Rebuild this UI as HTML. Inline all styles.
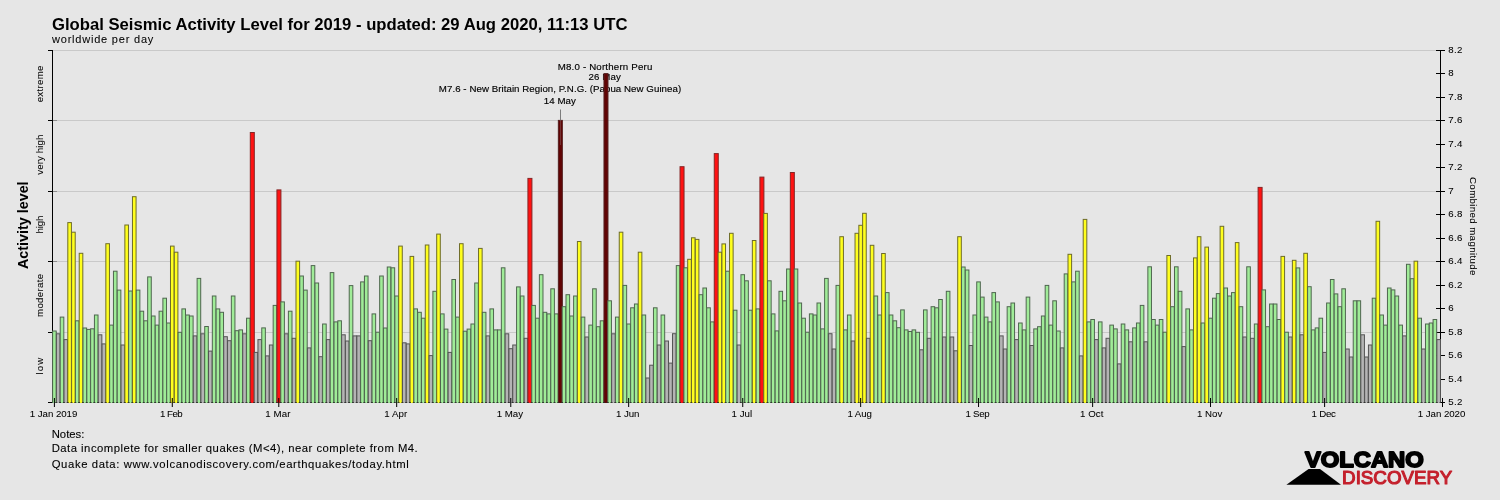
<!DOCTYPE html>
<html lang="en"><head><meta charset="utf-8"><title>Global Seismic Activity Level for 2019</title>
<style>
html,body{margin:0;padding:0;background:#e6e6e6;}
body{width:1500px;height:500px;overflow:hidden;}
svg{display:block;font-family:"Liberation Sans",sans-serif;fill:#000;}
.t{font-size:16px;font-weight:bold;}
.s{font-size:11px;stroke:#000;stroke-width:0.05px;}
.a{font-size:9.7px;stroke:#000;stroke-width:0.06px;}
.n{font-size:11.3px;stroke:#000;stroke-width:0.1px;}
.l{font-size:9.7px;stroke:#000;stroke-width:0.15px;}
.al{font-size:14px;font-weight:bold;}
.b rect{stroke-width:1;}
.g{fill:#a0ec98;stroke:#4f664f;}
.y{fill:#ffff1e;stroke:#6e6c2a;}
.n2{fill:#b4b4b4;stroke:#545454;}
.r{fill:#ff1212;stroke:#842626;}
.d{fill:#620404;stroke:#542020;}
</style></head><body>
<svg width="1500" height="500" viewBox="0 0 1500 500">
<rect x="0" y="0" width="1500" height="500" fill="#e6e6e6"/>
<text class="t" x="52" y="29.7" textLength="575.5" lengthAdjust="spacingAndGlyphs">Global Seismic Activity Level for 2019 - updated: 29 Aug 2020, 11:13 UTC</text>
<text class="s" x="52" y="42.9" textLength="101.3" lengthAdjust="spacing">worldwide per day</text>
<rect x="53" y="50" width="1387" height="1" fill="#c9c9c9"/>
<rect x="53" y="120" width="1387" height="1" fill="#c9c9c9"/>
<rect x="53" y="191" width="1387" height="1" fill="#c9c9c9"/>
<rect x="53" y="261" width="1387" height="1" fill="#c9c9c9"/>
<rect x="53" y="332" width="1387" height="1" fill="#c9c9c9"/>
<rect x="52" y="50" width="1" height="353" fill="#000"/>
<rect x="48" y="50" width="4" height="1" fill="#000"/>
<rect x="48" y="120" width="4" height="1" fill="#000"/>
<rect x="53" y="120" width="4" height="1" fill="#8c8c8c"/>
<rect x="48" y="191" width="4" height="1" fill="#000"/>
<rect x="53" y="191" width="4" height="1" fill="#8c8c8c"/>
<rect x="48" y="261" width="4" height="1" fill="#000"/>
<rect x="53" y="261" width="4" height="1" fill="#8c8c8c"/>
<rect x="48" y="332" width="4" height="1" fill="#000"/>
<rect x="53" y="332" width="4" height="1" fill="#8c8c8c"/>
<rect x="48" y="402" width="4" height="1" fill="#000"/>
<rect x="52" y="402" width="1389" height="1" fill="#000"/>
<rect x="1440" y="50" width="1" height="353" fill="#000"/>
<rect x="1436" y="50" width="9" height="1" fill="#000"/>
<text class="a" x="1448.2" y="52.7" textLength="14.1" lengthAdjust="spacing">8.2</text>
<rect x="1436" y="73" width="9" height="1" fill="#000"/>
<text class="a" x="1448.2" y="75.7">8</text>
<rect x="1436" y="97" width="9" height="1" fill="#000"/>
<text class="a" x="1448.2" y="99.7" textLength="14.1" lengthAdjust="spacing">7.8</text>
<rect x="1436" y="120" width="9" height="1" fill="#000"/>
<text class="a" x="1448.2" y="122.7" textLength="14.1" lengthAdjust="spacing">7.6</text>
<rect x="1436" y="144" width="9" height="1" fill="#000"/>
<text class="a" x="1448.2" y="146.7" textLength="14.1" lengthAdjust="spacing">7.4</text>
<rect x="1436" y="167" width="9" height="1" fill="#000"/>
<text class="a" x="1448.2" y="169.7" textLength="14.1" lengthAdjust="spacing">7.2</text>
<rect x="1436" y="191" width="9" height="1" fill="#000"/>
<text class="a" x="1448.2" y="193.7">7</text>
<rect x="1436" y="214" width="9" height="1" fill="#000"/>
<text class="a" x="1448.2" y="216.7" textLength="14.1" lengthAdjust="spacing">6.8</text>
<rect x="1436" y="238" width="9" height="1" fill="#000"/>
<text class="a" x="1448.2" y="240.7" textLength="14.1" lengthAdjust="spacing">6.6</text>
<rect x="1436" y="261" width="9" height="1" fill="#000"/>
<text class="a" x="1448.2" y="263.7" textLength="14.1" lengthAdjust="spacing">6.4</text>
<rect x="1436" y="285" width="9" height="1" fill="#000"/>
<text class="a" x="1448.2" y="287.7" textLength="14.1" lengthAdjust="spacing">6.2</text>
<rect x="1436" y="308" width="9" height="1" fill="#000"/>
<text class="a" x="1448.2" y="310.7">6</text>
<rect x="1436" y="332" width="9" height="1" fill="#000"/>
<text class="a" x="1448.2" y="334.7" textLength="14.1" lengthAdjust="spacing">5.8</text>
<rect x="1436" y="355" width="9" height="1" fill="#000"/>
<text class="a" x="1448.2" y="357.7" textLength="14.1" lengthAdjust="spacing">5.6</text>
<rect x="1436" y="379" width="9" height="1" fill="#000"/>
<text class="a" x="1448.2" y="381.7" textLength="14.1" lengthAdjust="spacing">5.4</text>
<rect x="1436" y="402" width="9" height="1" fill="#000"/>
<text class="a" x="1448.2" y="404.7" textLength="14.1" lengthAdjust="spacing">5.2</text>
<text class="l" x="605" y="70" text-anchor="middle" textLength="94.6" lengthAdjust="spacing">M8.0 - Northern Peru</text>
<text class="l" x="604.7" y="79.9" text-anchor="middle" textLength="32.4" lengthAdjust="spacing">26 May</text>
<text class="l" x="560" y="92" text-anchor="middle" textLength="242.3" lengthAdjust="spacing">M7.6 - New Britain Region, P.N.G. (Papua New Guinea)</text>
<text class="l" x="559.8" y="103.5" text-anchor="middle" textLength="32" lengthAdjust="spacing">14 May</text>
<svg class="b" x="0" y="0" width="1500" height="403" viewBox="0 0 1500 403" overflow="hidden">
<rect class="g" x="52.60" y="331.0" width="3.60" height="79.5"/>
<rect class="n2" x="56.40" y="333.8" width="3.60" height="76.7"/>
<rect class="g" x="60.21" y="317.1" width="3.60" height="93.4"/>
<rect class="n2" x="64.01" y="339.6" width="3.60" height="70.9"/>
<rect class="y" x="67.81" y="222.6" width="3.60" height="187.9"/>
<rect class="y" x="71.61" y="232.2" width="3.60" height="178.3"/>
<rect class="g" x="75.42" y="320.8" width="3.60" height="89.7"/>
<rect class="y" x="79.22" y="253.3" width="3.60" height="157.2"/>
<rect class="g" x="83.02" y="328.0" width="3.60" height="82.5"/>
<rect class="g" x="86.83" y="329.4" width="3.60" height="81.1"/>
<rect class="g" x="90.63" y="328.8" width="3.60" height="81.7"/>
<rect class="g" x="94.43" y="315.0" width="3.60" height="95.5"/>
<rect class="n2" x="98.24" y="334.8" width="3.60" height="75.7"/>
<rect class="n2" x="102.04" y="343.9" width="3.60" height="66.6"/>
<rect class="y" x="105.84" y="243.7" width="3.60" height="166.8"/>
<rect class="g" x="109.64" y="325.1" width="3.60" height="85.4"/>
<rect class="g" x="113.45" y="271.2" width="3.60" height="139.3"/>
<rect class="g" x="117.25" y="290.1" width="3.60" height="120.4"/>
<rect class="n2" x="121.05" y="345.0" width="3.60" height="65.5"/>
<rect class="y" x="124.86" y="225.0" width="3.60" height="185.5"/>
<rect class="g" x="128.66" y="291.0" width="3.60" height="119.5"/>
<rect class="y" x="132.46" y="196.7" width="3.60" height="213.8"/>
<rect class="g" x="136.27" y="290.1" width="3.60" height="120.4"/>
<rect class="g" x="140.07" y="311.2" width="3.60" height="99.3"/>
<rect class="g" x="143.87" y="320.8" width="3.60" height="89.7"/>
<rect class="g" x="147.67" y="276.9" width="3.60" height="133.6"/>
<rect class="g" x="151.48" y="316.0" width="3.60" height="94.5"/>
<rect class="g" x="155.28" y="325.1" width="3.60" height="85.4"/>
<rect class="g" x="159.08" y="311.2" width="3.60" height="99.3"/>
<rect class="g" x="162.89" y="298.2" width="3.60" height="112.3"/>
<rect class="g" x="166.69" y="323.0" width="3.60" height="87.5"/>
<rect class="y" x="170.49" y="246.1" width="3.60" height="164.4"/>
<rect class="y" x="174.30" y="252.2" width="3.60" height="158.3"/>
<rect class="g" x="178.10" y="332.3" width="3.60" height="78.2"/>
<rect class="g" x="181.90" y="308.9" width="3.60" height="101.6"/>
<rect class="g" x="185.70" y="315.0" width="3.60" height="95.5"/>
<rect class="g" x="189.51" y="316.0" width="3.60" height="94.5"/>
<rect class="n2" x="193.31" y="335.9" width="3.60" height="74.6"/>
<rect class="g" x="197.11" y="278.4" width="3.60" height="132.1"/>
<rect class="n2" x="200.92" y="333.8" width="3.60" height="76.7"/>
<rect class="g" x="204.72" y="326.5" width="3.60" height="84.0"/>
<rect class="n2" x="208.52" y="351.1" width="3.60" height="59.4"/>
<rect class="g" x="212.33" y="296.0" width="3.60" height="114.5"/>
<rect class="g" x="216.13" y="308.9" width="3.60" height="101.6"/>
<rect class="g" x="219.93" y="312.3" width="3.60" height="98.2"/>
<rect class="n2" x="223.73" y="336.7" width="3.60" height="73.8"/>
<rect class="n2" x="227.54" y="340.7" width="3.60" height="69.8"/>
<rect class="g" x="231.34" y="296.0" width="3.60" height="114.5"/>
<rect class="g" x="235.14" y="330.7" width="3.60" height="79.8"/>
<rect class="g" x="238.95" y="329.9" width="3.60" height="80.6"/>
<rect class="n2" x="242.75" y="333.8" width="3.60" height="76.7"/>
<rect class="g" x="246.55" y="318.2" width="3.60" height="92.3"/>
<rect class="r" x="250.31" y="132.5" width="4.00" height="278.0"/>
<rect class="n2" x="254.16" y="352.4" width="3.60" height="58.1"/>
<rect class="n2" x="257.96" y="339.6" width="3.60" height="70.9"/>
<rect class="g" x="261.76" y="327.9" width="3.60" height="82.6"/>
<rect class="n2" x="265.57" y="355.9" width="3.60" height="54.6"/>
<rect class="n2" x="269.37" y="345.0" width="3.60" height="65.5"/>
<rect class="g" x="273.17" y="305.4" width="3.60" height="105.1"/>
<rect class="r" x="276.93" y="189.9" width="4.00" height="220.6"/>
<rect class="g" x="280.78" y="301.9" width="3.60" height="108.6"/>
<rect class="n2" x="284.58" y="333.8" width="3.60" height="76.7"/>
<rect class="g" x="288.39" y="311.2" width="3.60" height="99.3"/>
<rect class="n2" x="292.19" y="338.3" width="3.60" height="72.2"/>
<rect class="y" x="295.99" y="261.2" width="3.60" height="149.3"/>
<rect class="g" x="299.79" y="276.0" width="3.60" height="134.5"/>
<rect class="g" x="303.60" y="290.1" width="3.60" height="120.4"/>
<rect class="n2" x="307.40" y="347.9" width="3.60" height="62.6"/>
<rect class="g" x="311.20" y="265.6" width="3.60" height="144.9"/>
<rect class="g" x="315.01" y="283.0" width="3.60" height="127.5"/>
<rect class="n2" x="318.81" y="356.7" width="3.60" height="53.8"/>
<rect class="g" x="322.61" y="324.0" width="3.60" height="86.5"/>
<rect class="n2" x="326.42" y="339.6" width="3.60" height="70.9"/>
<rect class="g" x="330.22" y="272.6" width="3.60" height="137.9"/>
<rect class="g" x="334.02" y="321.9" width="3.60" height="88.6"/>
<rect class="g" x="337.82" y="320.8" width="3.60" height="89.7"/>
<rect class="n2" x="341.63" y="334.8" width="3.60" height="75.7"/>
<rect class="n2" x="345.43" y="341.0" width="3.60" height="69.5"/>
<rect class="g" x="349.23" y="285.6" width="3.60" height="124.9"/>
<rect class="n2" x="353.04" y="335.9" width="3.60" height="74.6"/>
<rect class="n2" x="356.84" y="335.9" width="3.60" height="74.6"/>
<rect class="g" x="360.64" y="281.9" width="3.60" height="128.6"/>
<rect class="g" x="364.45" y="276.0" width="3.60" height="134.5"/>
<rect class="n2" x="368.25" y="340.7" width="3.60" height="69.8"/>
<rect class="g" x="372.05" y="313.9" width="3.60" height="96.6"/>
<rect class="g" x="375.85" y="332.2" width="3.60" height="78.3"/>
<rect class="g" x="379.66" y="276.0" width="3.60" height="134.5"/>
<rect class="g" x="383.46" y="328.0" width="3.60" height="82.5"/>
<rect class="g" x="387.26" y="267.0" width="3.60" height="143.5"/>
<rect class="g" x="391.07" y="267.8" width="3.60" height="142.7"/>
<rect class="g" x="394.87" y="296.0" width="3.60" height="114.5"/>
<rect class="y" x="398.67" y="246.1" width="3.60" height="164.4"/>
<rect class="n2" x="402.48" y="342.8" width="3.60" height="67.7"/>
<rect class="n2" x="406.28" y="343.9" width="3.60" height="66.6"/>
<rect class="y" x="410.08" y="256.4" width="3.60" height="154.1"/>
<rect class="g" x="413.88" y="308.9" width="3.60" height="101.6"/>
<rect class="g" x="417.69" y="312.3" width="3.60" height="98.2"/>
<rect class="g" x="421.49" y="318.2" width="3.60" height="92.3"/>
<rect class="y" x="425.29" y="245.0" width="3.60" height="165.5"/>
<rect class="n2" x="429.10" y="355.6" width="3.60" height="54.9"/>
<rect class="g" x="432.90" y="291.3" width="3.60" height="119.2"/>
<rect class="y" x="436.70" y="234.1" width="3.60" height="176.4"/>
<rect class="g" x="440.51" y="313.9" width="3.60" height="96.6"/>
<rect class="g" x="444.31" y="329.1" width="3.60" height="81.4"/>
<rect class="n2" x="448.11" y="352.4" width="3.60" height="58.1"/>
<rect class="g" x="451.91" y="279.5" width="3.60" height="131.0"/>
<rect class="g" x="455.72" y="317.1" width="3.60" height="93.4"/>
<rect class="y" x="459.52" y="243.7" width="3.60" height="166.8"/>
<rect class="g" x="463.32" y="331.2" width="3.60" height="79.3"/>
<rect class="g" x="467.13" y="329.1" width="3.60" height="81.4"/>
<rect class="g" x="470.93" y="324.0" width="3.60" height="86.5"/>
<rect class="g" x="474.73" y="283.0" width="3.60" height="127.5"/>
<rect class="y" x="478.54" y="248.4" width="3.60" height="162.1"/>
<rect class="g" x="482.34" y="312.3" width="3.60" height="98.2"/>
<rect class="n2" x="486.14" y="335.9" width="3.60" height="74.6"/>
<rect class="g" x="489.94" y="308.9" width="3.60" height="101.6"/>
<rect class="g" x="493.75" y="329.9" width="3.60" height="80.6"/>
<rect class="g" x="497.55" y="329.9" width="3.60" height="80.6"/>
<rect class="g" x="501.35" y="267.8" width="3.60" height="142.7"/>
<rect class="n2" x="505.16" y="333.8" width="3.60" height="76.7"/>
<rect class="n2" x="508.96" y="348.7" width="3.60" height="61.8"/>
<rect class="n2" x="512.76" y="345.0" width="3.60" height="65.5"/>
<rect class="g" x="516.57" y="286.9" width="3.60" height="123.6"/>
<rect class="g" x="520.37" y="296.0" width="3.60" height="114.5"/>
<rect class="n2" x="524.17" y="338.3" width="3.60" height="72.2"/>
<rect class="r" x="527.92" y="178.4" width="4.00" height="232.1"/>
<rect class="g" x="531.78" y="305.4" width="3.60" height="105.1"/>
<rect class="g" x="535.58" y="318.2" width="3.60" height="92.3"/>
<rect class="g" x="539.38" y="274.7" width="3.60" height="135.8"/>
<rect class="g" x="543.19" y="312.3" width="3.60" height="98.2"/>
<rect class="g" x="546.99" y="313.9" width="3.60" height="96.6"/>
<rect class="g" x="550.79" y="288.8" width="3.60" height="121.7"/>
<rect class="g" x="554.60" y="313.9" width="3.60" height="96.6"/>
<rect class="d" x="558.35" y="120.4" width="4.00" height="290.1"/>
<rect class="g" x="562.20" y="306.7" width="3.60" height="103.8"/>
<rect class="g" x="566.00" y="294.7" width="3.60" height="115.8"/>
<rect class="g" x="569.81" y="316.0" width="3.60" height="94.5"/>
<rect class="g" x="573.61" y="296.0" width="3.60" height="114.5"/>
<rect class="y" x="577.41" y="241.5" width="3.60" height="169.0"/>
<rect class="g" x="581.22" y="317.1" width="3.60" height="93.4"/>
<rect class="n2" x="585.02" y="337.0" width="3.60" height="73.5"/>
<rect class="g" x="588.82" y="325.1" width="3.60" height="85.4"/>
<rect class="g" x="592.63" y="288.8" width="3.60" height="121.7"/>
<rect class="g" x="596.43" y="326.7" width="3.60" height="83.8"/>
<rect class="g" x="600.23" y="320.8" width="3.60" height="89.7"/>
<rect class="d" x="603.98" y="73.6" width="4.00" height="336.9"/>
<rect class="g" x="607.84" y="300.8" width="3.60" height="109.7"/>
<rect class="n2" x="611.64" y="333.8" width="3.60" height="76.7"/>
<rect class="g" x="615.44" y="317.1" width="3.60" height="93.4"/>
<rect class="y" x="619.25" y="232.2" width="3.60" height="178.3"/>
<rect class="g" x="623.05" y="285.4" width="3.60" height="125.1"/>
<rect class="g" x="626.85" y="324.0" width="3.60" height="86.5"/>
<rect class="g" x="630.66" y="307.8" width="3.60" height="102.7"/>
<rect class="g" x="634.46" y="304.0" width="3.60" height="106.5"/>
<rect class="y" x="638.26" y="252.2" width="3.60" height="158.3"/>
<rect class="g" x="642.07" y="315.0" width="3.60" height="95.5"/>
<rect class="n2" x="645.87" y="378.0" width="3.60" height="32.5"/>
<rect class="n2" x="649.67" y="365.2" width="3.60" height="45.3"/>
<rect class="g" x="653.47" y="307.8" width="3.60" height="102.7"/>
<rect class="n2" x="657.28" y="345.0" width="3.60" height="65.5"/>
<rect class="g" x="661.08" y="315.0" width="3.60" height="95.5"/>
<rect class="n2" x="664.88" y="341.0" width="3.60" height="69.5"/>
<rect class="n2" x="668.69" y="363.1" width="3.60" height="47.4"/>
<rect class="n2" x="672.49" y="333.7" width="3.60" height="76.8"/>
<rect class="g" x="676.29" y="265.6" width="3.60" height="144.9"/>
<rect class="r" x="680.04" y="166.7" width="4.00" height="243.8"/>
<rect class="g" x="683.90" y="267.8" width="3.60" height="142.7"/>
<rect class="y" x="687.70" y="259.3" width="3.60" height="151.2"/>
<rect class="y" x="691.50" y="237.8" width="3.60" height="172.7"/>
<rect class="y" x="695.31" y="239.4" width="3.60" height="171.1"/>
<rect class="g" x="699.11" y="294.7" width="3.60" height="115.8"/>
<rect class="g" x="702.91" y="288.0" width="3.60" height="122.5"/>
<rect class="g" x="706.72" y="307.8" width="3.60" height="102.7"/>
<rect class="g" x="710.52" y="321.9" width="3.60" height="88.6"/>
<rect class="r" x="714.27" y="153.6" width="4.00" height="256.9"/>
<rect class="y" x="718.12" y="252.2" width="3.60" height="158.3"/>
<rect class="y" x="721.93" y="243.9" width="3.60" height="166.6"/>
<rect class="g" x="725.73" y="271.2" width="3.60" height="139.3"/>
<rect class="y" x="729.53" y="233.3" width="3.60" height="177.2"/>
<rect class="g" x="733.34" y="310.2" width="3.60" height="100.3"/>
<rect class="n2" x="737.14" y="345.0" width="3.60" height="65.5"/>
<rect class="g" x="740.94" y="274.7" width="3.60" height="135.8"/>
<rect class="g" x="744.75" y="280.8" width="3.60" height="129.7"/>
<rect class="g" x="748.55" y="310.2" width="3.60" height="100.3"/>
<rect class="y" x="752.35" y="240.5" width="3.60" height="170.0"/>
<rect class="g" x="756.15" y="308.9" width="3.60" height="101.6"/>
<rect class="r" x="759.91" y="177.1" width="4.00" height="233.4"/>
<rect class="y" x="763.76" y="213.4" width="3.60" height="197.1"/>
<rect class="g" x="767.56" y="280.8" width="3.60" height="129.7"/>
<rect class="g" x="771.37" y="313.9" width="3.60" height="96.6"/>
<rect class="g" x="775.17" y="330.9" width="3.60" height="79.6"/>
<rect class="g" x="778.97" y="291.3" width="3.60" height="119.2"/>
<rect class="g" x="782.78" y="300.8" width="3.60" height="109.7"/>
<rect class="g" x="786.58" y="269.0" width="3.60" height="141.5"/>
<rect class="r" x="790.33" y="172.5" width="4.00" height="238.0"/>
<rect class="g" x="794.19" y="269.0" width="3.60" height="141.5"/>
<rect class="g" x="797.99" y="303.0" width="3.60" height="107.5"/>
<rect class="g" x="801.79" y="318.2" width="3.60" height="92.3"/>
<rect class="g" x="805.59" y="332.2" width="3.60" height="78.3"/>
<rect class="g" x="809.40" y="313.9" width="3.60" height="96.6"/>
<rect class="g" x="813.20" y="315.0" width="3.60" height="95.5"/>
<rect class="g" x="817.00" y="303.0" width="3.60" height="107.5"/>
<rect class="g" x="820.81" y="328.9" width="3.60" height="81.6"/>
<rect class="g" x="824.61" y="278.4" width="3.60" height="132.1"/>
<rect class="n2" x="828.41" y="333.7" width="3.60" height="76.8"/>
<rect class="n2" x="832.22" y="349.0" width="3.60" height="61.5"/>
<rect class="g" x="836.02" y="285.4" width="3.60" height="125.1"/>
<rect class="y" x="839.82" y="236.7" width="3.60" height="173.8"/>
<rect class="g" x="843.62" y="329.9" width="3.60" height="80.6"/>
<rect class="g" x="847.43" y="315.0" width="3.60" height="95.5"/>
<rect class="n2" x="851.23" y="341.0" width="3.60" height="69.5"/>
<rect class="y" x="855.03" y="233.3" width="3.60" height="177.2"/>
<rect class="y" x="858.84" y="225.3" width="3.60" height="185.2"/>
<rect class="y" x="862.64" y="213.3" width="3.60" height="197.2"/>
<rect class="n2" x="866.44" y="338.3" width="3.60" height="72.2"/>
<rect class="y" x="870.25" y="245.3" width="3.60" height="165.2"/>
<rect class="g" x="874.05" y="296.0" width="3.60" height="114.5"/>
<rect class="g" x="877.85" y="315.0" width="3.60" height="95.5"/>
<rect class="y" x="881.65" y="253.5" width="3.60" height="157.0"/>
<rect class="g" x="885.46" y="292.6" width="3.60" height="117.9"/>
<rect class="g" x="889.26" y="315.0" width="3.60" height="95.5"/>
<rect class="g" x="893.06" y="320.8" width="3.60" height="89.7"/>
<rect class="g" x="896.87" y="327.7" width="3.60" height="82.8"/>
<rect class="g" x="900.67" y="309.9" width="3.60" height="100.6"/>
<rect class="g" x="904.47" y="329.9" width="3.60" height="80.6"/>
<rect class="g" x="908.27" y="331.5" width="3.60" height="79.0"/>
<rect class="g" x="912.08" y="329.9" width="3.60" height="80.6"/>
<rect class="g" x="915.88" y="332.3" width="3.60" height="78.2"/>
<rect class="n2" x="919.68" y="349.8" width="3.60" height="60.7"/>
<rect class="g" x="923.49" y="309.9" width="3.60" height="100.6"/>
<rect class="n2" x="927.29" y="338.3" width="3.60" height="72.2"/>
<rect class="g" x="931.09" y="306.7" width="3.60" height="103.8"/>
<rect class="g" x="934.90" y="307.8" width="3.60" height="102.7"/>
<rect class="g" x="938.70" y="299.5" width="3.60" height="111.0"/>
<rect class="n2" x="942.50" y="337.0" width="3.60" height="73.5"/>
<rect class="g" x="946.31" y="291.3" width="3.60" height="119.2"/>
<rect class="n2" x="950.11" y="337.0" width="3.60" height="73.5"/>
<rect class="n2" x="953.91" y="350.8" width="3.60" height="59.7"/>
<rect class="y" x="957.71" y="236.7" width="3.60" height="173.8"/>
<rect class="g" x="961.52" y="267.0" width="3.60" height="143.5"/>
<rect class="g" x="965.32" y="270.0" width="3.60" height="140.5"/>
<rect class="n2" x="969.12" y="345.5" width="3.60" height="65.0"/>
<rect class="g" x="972.93" y="315.0" width="3.60" height="95.5"/>
<rect class="g" x="976.73" y="281.9" width="3.60" height="128.6"/>
<rect class="g" x="980.53" y="297.1" width="3.60" height="113.4"/>
<rect class="g" x="984.34" y="317.1" width="3.60" height="93.4"/>
<rect class="g" x="988.14" y="321.9" width="3.60" height="88.6"/>
<rect class="g" x="991.94" y="292.6" width="3.60" height="117.9"/>
<rect class="g" x="995.74" y="301.9" width="3.60" height="108.6"/>
<rect class="n2" x="999.55" y="335.9" width="3.60" height="74.6"/>
<rect class="n2" x="1003.35" y="349.0" width="3.60" height="61.5"/>
<rect class="g" x="1007.15" y="306.7" width="3.60" height="103.8"/>
<rect class="g" x="1010.96" y="303.0" width="3.60" height="107.5"/>
<rect class="n2" x="1014.76" y="339.6" width="3.60" height="70.9"/>
<rect class="g" x="1018.56" y="323.0" width="3.60" height="87.5"/>
<rect class="g" x="1022.37" y="329.9" width="3.60" height="80.6"/>
<rect class="g" x="1026.17" y="297.1" width="3.60" height="113.4"/>
<rect class="n2" x="1029.97" y="345.5" width="3.60" height="65.0"/>
<rect class="g" x="1033.77" y="328.9" width="3.60" height="81.6"/>
<rect class="g" x="1037.58" y="326.7" width="3.60" height="83.8"/>
<rect class="g" x="1041.38" y="316.0" width="3.60" height="94.5"/>
<rect class="g" x="1045.18" y="285.4" width="3.60" height="125.1"/>
<rect class="g" x="1048.99" y="325.1" width="3.60" height="85.4"/>
<rect class="g" x="1052.79" y="300.8" width="3.60" height="109.7"/>
<rect class="g" x="1056.59" y="331.0" width="3.60" height="79.5"/>
<rect class="n2" x="1060.39" y="347.9" width="3.60" height="62.6"/>
<rect class="g" x="1064.20" y="273.9" width="3.60" height="136.6"/>
<rect class="y" x="1068.00" y="254.3" width="3.60" height="156.2"/>
<rect class="g" x="1071.80" y="281.9" width="3.60" height="128.6"/>
<rect class="g" x="1075.61" y="271.2" width="3.60" height="139.3"/>
<rect class="n2" x="1079.41" y="355.9" width="3.60" height="54.6"/>
<rect class="y" x="1083.21" y="219.4" width="3.60" height="191.1"/>
<rect class="g" x="1087.02" y="321.9" width="3.60" height="88.6"/>
<rect class="g" x="1090.82" y="319.5" width="3.60" height="91.0"/>
<rect class="n2" x="1094.62" y="339.6" width="3.60" height="70.9"/>
<rect class="g" x="1098.43" y="321.9" width="3.60" height="88.6"/>
<rect class="n2" x="1102.23" y="347.9" width="3.60" height="62.6"/>
<rect class="n2" x="1106.03" y="338.3" width="3.60" height="72.2"/>
<rect class="g" x="1109.83" y="325.1" width="3.60" height="85.4"/>
<rect class="g" x="1113.64" y="328.9" width="3.60" height="81.6"/>
<rect class="n2" x="1117.44" y="363.9" width="3.60" height="46.6"/>
<rect class="g" x="1121.24" y="324.0" width="3.60" height="86.5"/>
<rect class="g" x="1125.05" y="329.9" width="3.60" height="80.6"/>
<rect class="n2" x="1128.85" y="341.8" width="3.60" height="68.7"/>
<rect class="g" x="1132.65" y="327.9" width="3.60" height="82.6"/>
<rect class="g" x="1136.46" y="323.0" width="3.60" height="87.5"/>
<rect class="g" x="1140.26" y="305.4" width="3.60" height="105.1"/>
<rect class="n2" x="1144.06" y="341.8" width="3.60" height="68.7"/>
<rect class="g" x="1147.86" y="266.8" width="3.60" height="143.7"/>
<rect class="g" x="1151.67" y="319.5" width="3.60" height="91.0"/>
<rect class="g" x="1155.47" y="325.1" width="3.60" height="85.4"/>
<rect class="g" x="1159.27" y="319.5" width="3.60" height="91.0"/>
<rect class="g" x="1163.08" y="332.2" width="3.60" height="78.3"/>
<rect class="y" x="1166.88" y="255.5" width="3.60" height="155.0"/>
<rect class="g" x="1170.68" y="306.7" width="3.60" height="103.8"/>
<rect class="g" x="1174.49" y="266.8" width="3.60" height="143.7"/>
<rect class="g" x="1178.29" y="291.3" width="3.60" height="119.2"/>
<rect class="n2" x="1182.09" y="346.6" width="3.60" height="63.9"/>
<rect class="g" x="1185.89" y="308.9" width="3.60" height="101.6"/>
<rect class="g" x="1189.70" y="329.9" width="3.60" height="80.6"/>
<rect class="y" x="1193.50" y="257.9" width="3.60" height="152.6"/>
<rect class="y" x="1197.30" y="236.7" width="3.60" height="173.8"/>
<rect class="g" x="1201.11" y="323.0" width="3.60" height="87.5"/>
<rect class="y" x="1204.91" y="247.1" width="3.60" height="163.4"/>
<rect class="g" x="1208.71" y="318.2" width="3.60" height="92.3"/>
<rect class="g" x="1212.52" y="298.2" width="3.60" height="112.3"/>
<rect class="g" x="1216.32" y="293.6" width="3.60" height="116.9"/>
<rect class="y" x="1220.12" y="226.3" width="3.60" height="184.2"/>
<rect class="g" x="1223.92" y="288.0" width="3.60" height="122.5"/>
<rect class="g" x="1227.73" y="296.0" width="3.60" height="114.5"/>
<rect class="g" x="1231.53" y="292.6" width="3.60" height="117.9"/>
<rect class="y" x="1235.33" y="242.6" width="3.60" height="167.9"/>
<rect class="g" x="1239.14" y="306.7" width="3.60" height="103.8"/>
<rect class="n2" x="1242.94" y="337.0" width="3.60" height="73.5"/>
<rect class="g" x="1246.74" y="266.8" width="3.60" height="143.7"/>
<rect class="n2" x="1250.55" y="338.3" width="3.60" height="72.2"/>
<rect class="g" x="1254.35" y="324.0" width="3.60" height="86.5"/>
<rect class="r" x="1258.10" y="187.4" width="4.00" height="223.1"/>
<rect class="g" x="1261.95" y="289.9" width="3.60" height="120.6"/>
<rect class="g" x="1265.76" y="326.7" width="3.60" height="83.8"/>
<rect class="g" x="1269.56" y="304.0" width="3.60" height="106.5"/>
<rect class="g" x="1273.36" y="304.0" width="3.60" height="106.5"/>
<rect class="g" x="1277.17" y="319.5" width="3.60" height="91.0"/>
<rect class="y" x="1280.97" y="256.4" width="3.60" height="154.1"/>
<rect class="g" x="1284.77" y="332.2" width="3.60" height="78.3"/>
<rect class="n2" x="1288.58" y="337.0" width="3.60" height="73.5"/>
<rect class="y" x="1292.38" y="260.3" width="3.60" height="150.2"/>
<rect class="g" x="1296.18" y="267.9" width="3.60" height="142.6"/>
<rect class="n2" x="1299.98" y="334.8" width="3.60" height="75.7"/>
<rect class="y" x="1303.79" y="253.3" width="3.60" height="157.2"/>
<rect class="g" x="1307.59" y="286.7" width="3.60" height="123.8"/>
<rect class="g" x="1311.39" y="329.9" width="3.60" height="80.6"/>
<rect class="g" x="1315.20" y="327.9" width="3.60" height="82.6"/>
<rect class="g" x="1319.00" y="318.2" width="3.60" height="92.3"/>
<rect class="n2" x="1322.80" y="352.4" width="3.60" height="58.1"/>
<rect class="g" x="1326.61" y="303.0" width="3.60" height="107.5"/>
<rect class="g" x="1330.41" y="279.5" width="3.60" height="131.0"/>
<rect class="g" x="1334.21" y="293.9" width="3.60" height="116.6"/>
<rect class="g" x="1338.01" y="306.7" width="3.60" height="103.8"/>
<rect class="g" x="1341.82" y="288.8" width="3.60" height="121.7"/>
<rect class="n2" x="1345.62" y="349.0" width="3.60" height="61.5"/>
<rect class="n2" x="1349.42" y="357.0" width="3.60" height="53.5"/>
<rect class="g" x="1353.23" y="300.8" width="3.60" height="109.7"/>
<rect class="g" x="1357.03" y="300.8" width="3.60" height="109.7"/>
<rect class="n2" x="1360.83" y="334.8" width="3.60" height="75.7"/>
<rect class="n2" x="1364.64" y="357.0" width="3.60" height="53.5"/>
<rect class="n2" x="1368.44" y="345.0" width="3.60" height="65.5"/>
<rect class="g" x="1372.24" y="298.2" width="3.60" height="112.3"/>
<rect class="y" x="1376.04" y="221.3" width="3.60" height="189.2"/>
<rect class="g" x="1379.85" y="315.0" width="3.60" height="95.5"/>
<rect class="g" x="1383.65" y="325.1" width="3.60" height="85.4"/>
<rect class="g" x="1387.45" y="288.0" width="3.60" height="122.5"/>
<rect class="g" x="1391.26" y="289.9" width="3.60" height="120.6"/>
<rect class="g" x="1395.06" y="296.0" width="3.60" height="114.5"/>
<rect class="g" x="1398.86" y="325.1" width="3.60" height="85.4"/>
<rect class="n2" x="1402.67" y="335.9" width="3.60" height="74.6"/>
<rect class="g" x="1406.47" y="264.3" width="3.60" height="146.2"/>
<rect class="g" x="1410.27" y="278.7" width="3.60" height="131.8"/>
<rect class="y" x="1414.07" y="261.2" width="3.60" height="149.3"/>
<rect class="g" x="1417.88" y="318.2" width="3.60" height="92.3"/>
<rect class="n2" x="1421.68" y="349.0" width="3.60" height="61.5"/>
<rect class="g" x="1425.48" y="324.0" width="3.60" height="86.5"/>
<rect class="g" x="1429.29" y="323.0" width="3.60" height="87.5"/>
<rect class="g" x="1433.09" y="319.5" width="3.60" height="91.0"/>
<rect class="n2" x="1436.89" y="339.6" width="3.60" height="70.9"/>
</svg>
<line x1="55.30" y1="402.5" x2="1441" y2="402.5" stroke="#2a2a2a" stroke-opacity="0.85" stroke-width="1" stroke-dasharray="2 1.803"/>
<rect x="560" y="109.5" width="1" height="10.5" fill="#7d7d7d"/>
<rect x="560" y="120" width="1" height="25" fill="#8a6a6a" opacity="0.45"/>
<rect x="53.90" y="398" width="1" height="9" fill="#000"/>
<text class="a" x="29.8" y="417" textLength="47.5" lengthAdjust="spacing">1 Jan 2019</text>
<rect x="171.79" y="398" width="1" height="9" fill="#000"/>
<text class="a" x="160.0" y="417" textLength="22.7" lengthAdjust="spacing">1 Feb</text>
<rect x="278.28" y="398" width="1" height="9" fill="#000"/>
<text class="a" x="265.2" y="417" textLength="25.4" lengthAdjust="spacing">1 Mar</text>
<rect x="396.17" y="398" width="1" height="9" fill="#000"/>
<text class="a" x="384.3" y="417" textLength="23" lengthAdjust="spacing">1 Apr</text>
<rect x="510.26" y="398" width="1" height="9" fill="#000"/>
<text class="a" x="496.7" y="417" textLength="26.4" lengthAdjust="spacing">1 May</text>
<rect x="628.15" y="398" width="1" height="9" fill="#000"/>
<text class="a" x="616.1" y="417" textLength="23.3" lengthAdjust="spacing">1 Jun</text>
<rect x="742.24" y="398" width="1" height="9" fill="#000"/>
<text class="a" x="731.6" y="417" textLength="20.5" lengthAdjust="spacing">1 Jul</text>
<rect x="860.14" y="398" width="1" height="9" fill="#000"/>
<text class="a" x="847.4" y="417" textLength="24.6" lengthAdjust="spacing">1 Aug</text>
<rect x="978.03" y="398" width="1" height="9" fill="#000"/>
<text class="a" x="965.6" y="417" textLength="24" lengthAdjust="spacing">1 Sep</text>
<rect x="1092.12" y="398" width="1" height="9" fill="#000"/>
<text class="a" x="1080.1" y="417" textLength="23.3" lengthAdjust="spacing">1 Oct</text>
<rect x="1210.01" y="398" width="1" height="9" fill="#000"/>
<text class="a" x="1197.0" y="417" textLength="25.3" lengthAdjust="spacing">1 Nov</text>
<rect x="1324.10" y="398" width="1" height="9" fill="#000"/>
<text class="a" x="1311.6" y="417" textLength="24.3" lengthAdjust="spacing">1 Dec</text>
<rect x="1442.00" y="398" width="1" height="9" fill="#000"/>
<text class="a" x="1417.8" y="417" textLength="47.5" lengthAdjust="spacing">1 Jan 2020</text>
<text class="a" transform="translate(43.2 374.6) rotate(-90)" textLength="16.8" lengthAdjust="spacing">low</text>
<text class="a" transform="translate(43.2 317.0) rotate(-90)" textLength="43.2" lengthAdjust="spacing">moderate</text>
<text class="a" transform="translate(43.2 233.6) rotate(-90)" textLength="18" lengthAdjust="spacing">high</text>
<text class="a" transform="translate(43.2 174.8) rotate(-90)" textLength="40.2" lengthAdjust="spacing">very high</text>
<text class="a" transform="translate(43.2 102.3) rotate(-90)" textLength="36.7" lengthAdjust="spacing">extreme</text>
<text class="al" transform="translate(28.2 225.2) rotate(-90)" text-anchor="middle" textLength="87.6" lengthAdjust="spacingAndGlyphs">Activity level</text>
<text class="a" transform="translate(1470 226.2) rotate(90)" text-anchor="middle" textLength="98.4" lengthAdjust="spacing">Combined magnitude</text>
<text class="n" x="51.7" y="438" >Notes:</text>
<text class="n" x="51.7" y="452" textLength="366" lengthAdjust="spacing">Data incomplete for smaller quakes (M&lt;4), near complete from M4.</text>
<text class="n" x="51.7" y="467.8" textLength="357" lengthAdjust="spacing">Quake data: www.volcanodiscovery.com/earthquakes/today.html</text>
<polygon points="1286.4,484.8 1308.6,469.1 1320,469.1 1341,484.8" fill="#000"/>
<text x="1304.9" y="466.5" font-size="22.1" font-weight="bold" stroke="#000" stroke-width="1.8" stroke-linejoin="round" textLength="118.9" lengthAdjust="spacingAndGlyphs">VOLCANO</text>
<text x="1342.1" y="484.2" font-size="19.2" fill="#c4202c" stroke="#c4202c" stroke-width="1.15" stroke-linejoin="round" textLength="110.1" lengthAdjust="spacingAndGlyphs">DISCOVERY</text>
</svg></body></html>
